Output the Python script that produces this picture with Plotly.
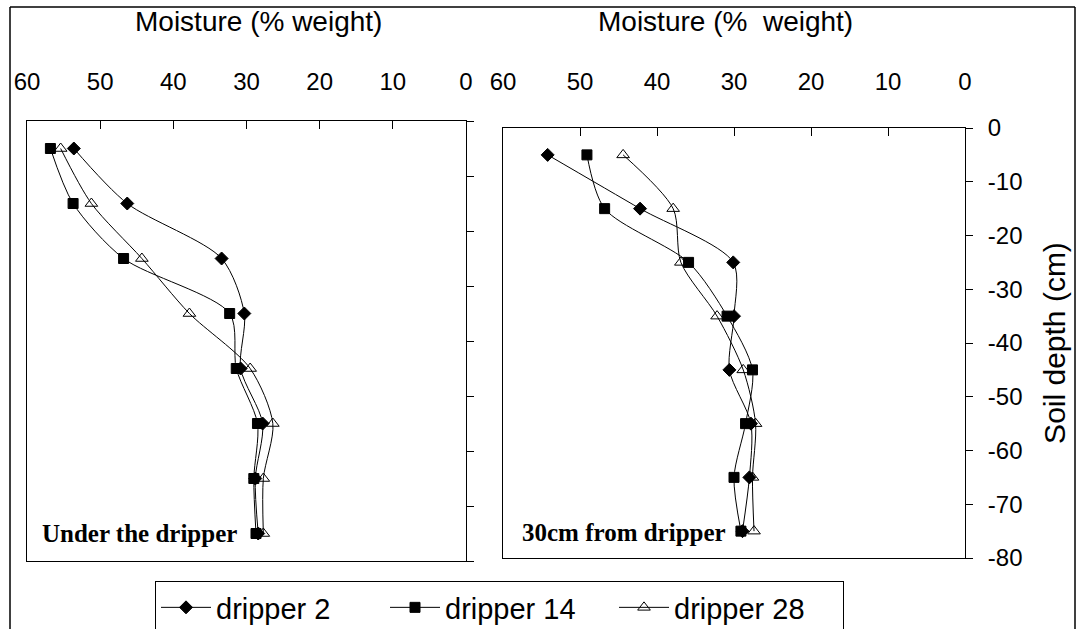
import plotly.graph_objects as go

# ---- data ----
depth = [-5, -15, -25, -35, -45, -55, -65, -75]
series_names = ["dripper 2", "dripper 14", "dripper 28"]

# Under the dripper (left panel)
under_d2 = [53.6, 46.3, 33.4, 30.3, 30.8, 27.8, 28.8, 28.4]
under_d14 = [56.8, 53.7, 46.8, 32.3, 31.4, 28.5, 29.0, 28.7]
under_d28 = [55.4, 51.2, 44.3, 37.8, 29.5, 26.4, 27.7, 27.7]

# 30cm from dripper (right panel)
far_d2 = [54.2, 42.2, 30.1, 30.0, 30.6, 27.8, 28.0, 28.9]
far_d14 = [49.1, 46.8, 35.9, 30.9, 27.6, 28.5, 30.0, 29.1]
far_d28 = [44.4, 37.9, 36.9, 32.2, 28.8, 27.2, 27.6, 27.4]

x_ticks = [60, 50, 40, 30, 20, 10, 0]
y_ticks = [0, -10, -20, -30, -40, -50, -60, -70, -80]

panel_labels = ["Under the dripper", "30cm from dripper"]
x_titles = ["Moisture (% weight)", "Moisture (%  weight)"]
y_title = "Soil depth (cm)"

# ---- styling ----
W, H = 1078, 629
symbols = ["diamond", "square", "triangle-up-open"]
msizes = [10, 10, 11]

fig = go.Figure()

panels = [
    ([under_d2, under_d14, under_d28], "x", "y"),
    ([far_d2, far_d14, far_d28], "x2", "y2"),
]
for pi, (vals, xa, ya) in enumerate(panels):
    for si, v in enumerate(vals):
        fig.add_trace(go.Scatter(
            x=v, y=depth, xaxis=xa, yaxis=ya,
            mode="lines+markers",
            name=series_names[si],
            showlegend=(pi == 0),
            line=dict(color="black", width=1, shape="spline", smoothing=0.8),
            marker=dict(symbol=symbols[si], size=msizes[si], color="black",
                        line=dict(color="black", width=1)),
        ))

def px_x(p):
    return p / W

def px_y(p):
    return 1 - p / H

FONT = "Liberation Sans, Arial, sans-serif"
axis_font = dict(family=FONT, size=24, color="black")

common_x = dict(range=[60, 0], tickvals=x_ticks, ticktext=[str(t) for t in x_ticks],
                side="top", ticks="inside", ticklen=8, tickcolor="black",
                showline=True, linecolor="black", linewidth=1, mirror=True,
                showgrid=False, zeroline=False, tickfont=axis_font, automargin=False)
common_y = dict(range=[-80, 0], tickvals=y_ticks, side="right", ticks="outside",
                ticklen=7, tickcolor="black", showline=True, linecolor="black",
                linewidth=1, mirror=True, showgrid=False, zeroline=False,
                tickfont=axis_font, automargin=False)

fig.update_layout(
    width=W, height=H,
    margin=dict(l=0, r=0, t=0, b=0, autoexpand=False),
    paper_bgcolor="white", plot_bgcolor="white",
    xaxis=dict(common_x, domain=[px_x(27), px_x(466)], anchor="y",
               ticklabelstandoff=20),
    yaxis=dict(common_y, domain=[px_y(561), px_y(121)], anchor="x",
               showticklabels=False),
    xaxis2=dict(common_x, domain=[px_x(503), px_x(965)], anchor="y2",
                ticklabelstandoff=27),
    yaxis2=dict(common_y, domain=[px_y(558), px_y(128)], anchor="x2",
                ticktext=[str(t) for t in y_ticks], ticklabelstandoff=10,
                title=dict(text=y_title, font=dict(family=FONT, size=30, color="black"),
                           standoff=22)),
    showlegend=True,
    legend=dict(orientation="h", x=px_x(155), y=px_y(581), xanchor="left", yanchor="top",
                bordercolor="black", borderwidth=1, bgcolor="white",
                font=dict(family=FONT, size=29, color="black"),
                itemwidth=50, entrywidth=164, tracegroupgap=0),
)

annots = []
for i, (t, cx) in enumerate(zip(x_titles, [258, 725])):
    annots.append(dict(text=t, x=px_x(cx), y=px_y(22), xref="paper", yref="paper",
                       showarrow=False, xanchor="center", yanchor="middle",
                       font=dict(family=FONT, size=28, color="black")))
annots.append(dict(text="<b>" + panel_labels[0] + "</b>", x=px_x(40), y=px_y(533),
                   xref="paper", yref="paper", showarrow=False, xanchor="left", yanchor="middle",
                   font=dict(family="Liberation Serif, Times New Roman, serif", size=25, color="black")))
annots.append(dict(text="<b>" + panel_labels[1] + "</b>", x=px_x(520), y=px_y(532),
                   xref="paper", yref="paper", showarrow=False, xanchor="left", yanchor="middle",
                   font=dict(family="Liberation Serif, Times New Roman, serif", size=25, color="black")))
fig.update_layout(annotations=annots)

# outer frame
frame = dict(type="line", xref="paper", yref="paper", line=dict(color="black", width=1.5))
fig.update_layout(shapes=[
    dict(frame, x0=px_x(10), x1=px_x(10), y0=-0.05, y1=px_y(7)),
    dict(frame, x0=px_x(10), x1=px_x(1075), y0=px_y(7), y1=px_y(7)),
    dict(frame, x0=px_x(1075), x1=px_x(1075), y0=-0.05, y1=px_y(7)),
])

fig.write_html("out.html",
               config={"displayModeBar": False},
               post_script="document.body.style.margin='0';document.body.style.padding='0';"
                           "document.body.style.overflow='hidden';")
